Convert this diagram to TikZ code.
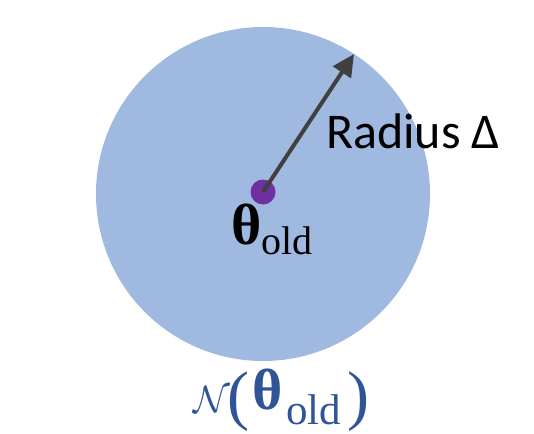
\documentclass[tikz,border=0pt]{standalone}
\usepackage{graphicx}
\usepackage{fontspec}
\setmainfont{Liberation Serif}
\newfontfamily\labelsans{Carlito}
\usetikzlibrary{arrows.meta}
\definecolor{discfill}{HTML}{A0B9E1}
\definecolor{dotpurple}{HTML}{7030A0}
\definecolor{arrowgray}{HTML}{404040}
\definecolor{labelblue}{HTML}{2F5597}
\tikzset{
  txt/.style={inner sep=0pt, outer sep=0pt, anchor=base west},
}
\begin{document}
\begin{tikzpicture}[x=1pt,y=-1pt]
\path[use as bounding box, fill=white] (0,0) rectangle (534,433);
% disc
\fill[discfill] (263,194) circle (167);
% center point
\node[circle, fill=dotpurple, minimum size=25pt, inner sep=0pt] (c) at (263,192) {};
\coordinate (tip) at (354,54);
\draw[arrowgray, line width=4pt, -{Triangle[length=22pt,width=21pt]}] (c.center) -- (tip);
% radius label
\node[txt] (rad) at (326,148) {\labelsans\fontsize{50}{50}\selectfont Radius Δ};
% theta_old label
\node[txt] (th) at (231,244) {\fontsize{58}{58}\selectfont\bfseries θ};
\node[txt] (thsub) at (261,254) {\fontsize{40}{40}\selectfont old};
% N(theta_old)
\node[txt, text=labelblue] (nn) at (193,412) {\scalebox{3.8}{$\mathcal{N}$}};
\node[txt, text=labelblue] (lp) at (227,417) {\fontsize{66}{66}\selectfont (};
\node[txt, text=labelblue] (th2) at (252,409) {\fontsize{58}{58}\selectfont\bfseries θ};
\node[txt, text=labelblue] (th2sub) at (286,424) {\fontsize{43}{43}\selectfont old};
\node[txt, text=labelblue] (rp) at (347,417) {\fontsize{66}{66}\selectfont )};
\end{tikzpicture}
\end{document}
